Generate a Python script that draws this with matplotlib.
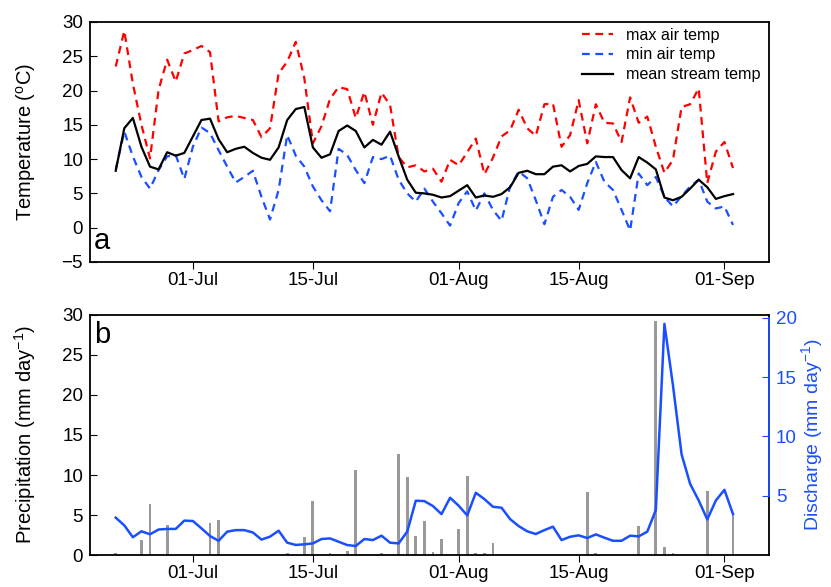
import numpy as np
import matplotlib
matplotlib.use('Agg')
import matplotlib.pyplot as plt
import matplotlib.dates as mdates

plt.rcParams['font.family'] = ['Liberation Sans', 'DejaVu Sans']
plt.rcParams['mathtext.fontset'] = 'custom'
plt.rcParams['mathtext.rm'] = 'Liberation Sans'
plt.rcParams['mathtext.it'] = 'Liberation Sans:italic'

# daily series, 22 Jun - 02 Sep
start_day = '2013-06-22'
end_day = '2013-09-03'

max_air = [23.5, 28.7, 21.0, 15.0, 10.1, 20.1, 24.5, 21.3, 25.4, 25.9,
           26.5, 25.6, 15.5, 16.1, 16.3, 16.0, 15.7, 13.2, 14.5, 22.5,
           24.2, 27.1, 21.8, 12.3, 14.8, 18.8, 20.5, 20.2, 16.0, 19.8,
           15.0, 19.7, 17.9, 10.3, 8.8, 9.1, 8.2, 8.6, 6.7, 9.9,
           9.1, 11.0, 13.0, 7.8, 10.2, 13.3, 14.2, 17.2, 14.5, 13.4,
           18.0, 18.1, 11.8, 13.5, 18.6, 12.3, 18.0, 15.3, 15.2, 12.5,
           19.0, 15.3, 16.2, 11.8, 8.0, 9.9, 17.6, 18.0, 20.3, 6.5,
           11.1, 12.5, 8.7]

min_air = [8.5, 14.0, 10.4, 7.4, 5.7, 8.4, 10.4, 10.6, 7.1, 11.8,
           14.6, 13.8, 11.3, 8.9, 6.6, 7.4, 8.3, 4.5, 1.2, 5.5,
           13.5, 10.5, 8.9, 6.0, 4.0, 2.4, 11.5, 10.6, 8.4, 6.5,
           10.3, 10.0, 10.5, 7.0, 5.0, 3.8, 5.7, 3.8, 2.1, 0.3,
           3.6, 5.3, 2.5, 5.0, 2.6, 1.0, 6.0, 8.2, 7.2, 4.0,
           0.5, 4.5, 5.5, 4.5, 2.6, 6.5, 9.6, 6.7, 5.5, 2.6,
           -0.4, 7.9, 6.2, 7.4, 4.5, 3.1, 4.6, 6.0, 7.0, 3.8,
           2.8, 3.1, 0.4]

mean_stream = [8.3, 14.5, 16.0, 11.8, 8.9, 8.5, 11.0, 10.5, 10.9, 13.3,
               15.7, 15.9, 12.9, 11.0, 11.5, 11.8, 10.9, 10.2, 9.9, 11.7,
               15.7, 17.3, 17.6, 11.7, 10.2, 10.7, 14.1, 14.9, 14.1, 11.7,
               12.8, 12.1, 14.0, 10.4, 7.0, 5.1, 5.0, 4.8, 4.4, 4.6,
               5.4, 6.2, 4.4, 4.7, 4.5, 4.9, 5.9, 8.0, 8.3, 7.8,
               7.8, 8.9, 9.1, 8.2, 9.0, 9.3, 10.4, 10.3, 10.3, 8.4,
               7.2, 10.3, 9.5, 8.5, 4.4, 4.0, 4.5, 5.7, 7.0, 5.9,
               4.2, 4.6, 4.9]

precip = [0.3, 0, 0, 1.9, 6.4, 0, 3.8, 0, 0, 0,
          0, 4.0, 4.4, 0, 0, 0, 0, 0, 0, 0,
          0.3, 0, 2.2, 6.8, 0, 0.2, 0, 0.5, 10.6, 0,
          0, 0.2, 0, 12.6, 9.8, 2.4, 4.2, 0.4, 2.0, 0,
          3.2, 9.9, 0.2, 0.3, 1.5, 0, 0, 0, 0, 0,
          0, 0, 0, 0, 0, 7.9, 0.2, 0, 0, 0,
          0, 3.6, 0, 29.3, 1.0, 0.2, 0, 0, 0, 8.0,
          0, 0, 5.0]

discharge = [3.15, 2.5, 1.5, 2.0, 1.75, 2.15, 2.2, 2.2, 2.9, 2.87,
             2.25, 1.6, 1.2, 1.97, 2.1, 2.1, 1.9, 1.3, 1.55, 2.05,
             1.04, 0.85, 0.9, 0.98, 1.35, 1.4, 1.12, 0.84, 0.76, 1.35,
             1.26, 1.63, 1.04, 0.98, 1.97, 4.58, 4.55, 4.13, 3.45, 4.83,
             4.16, 3.34, 5.25, 4.72, 4.07, 3.99, 3.03, 2.44, 2.0, 1.77,
             2.1, 2.39, 1.26, 1.54, 1.66, 1.43, 1.74, 1.46, 1.2, 1.2,
             1.63, 1.57, 1.97, 3.8, 19.5, 14.3, 8.5, 6.0, 4.6, 3.0,
             4.6, 5.5, 3.45]

dates = np.arange(start_day, end_day, dtype='datetime64[D]')
blue = '#1a4fff'

fig = plt.figure(figsize=(8.31, 5.87), dpi=100)
axA = fig.add_axes([0.1083, 0.5537, 0.8171, 0.4089])
axB = fig.add_axes([0.1083, 0.0545, 0.8171, 0.4089])

xmin = mdates.date2num(np.datetime64('2013-06-19'))
xmax = mdates.date2num(np.datetime64('2013-09-06')) + 0.2

# panel a: temperatures
axA.plot(dates, max_air, color='red', lw=1.6, dashes=(3.5, 2.5), label='max air temp')
axA.plot(dates, min_air, color=blue, lw=1.6, dashes=(3.5, 2.5), label='min air temp')
axA.plot(dates, mean_stream, color='black', lw=1.6, label='mean stream temp')
axA.set_ylim(-5, 30)
axA.set_yticks(np.arange(-5, 31, 5))
axA.set_ylabel('Temperature ($^{\\mathrm{o}}$C)', fontsize=14.5)
axA.yaxis.set_label_coords(-0.077, 0.5)
axA.text(0.006, 0.03, 'a', transform=axA.transAxes, fontsize=21, ha='left', va='bottom')
axA.legend(loc='upper left', bbox_to_anchor=(0.72, 0.99), frameon=False, fontsize=11.6,
           handlelength=1.9, handletextpad=0.8, labelspacing=0.3, borderpad=0.2,
           borderaxespad=0)

# panel b: precipitation + discharge
axB.bar(dates, precip, width=0.33, color='#999999', align='center')
axB.set_ylim(0, 30)
axB.set_yticks(np.arange(0, 31, 5))
axB.set_ylabel('Precipitation (mm day$^{-1}$)', fontsize=14.5)
axB.yaxis.set_label_coords(-0.077, 0.5)
axB.text(0.006, 0.975, 'b', transform=axB.transAxes, fontsize=21, ha='left', va='top')

axQ = axB.twinx()
axQ.plot(dates, discharge, color=blue, lw=1.8)
axQ.set_ylim(0, 20.25)
axQ.set_yticks([5, 10, 15, 20])
for s in ['left', 'top', 'bottom']:
    axQ.spines[s].set_visible(False)
axQ.spines['right'].set_bounds(5, 20)
axQ.spines['right'].set_color(blue)
axQ.spines['right'].set_linewidth(1.3)
axQ.tick_params(axis='y', direction='in', length=5, colors=blue, labelsize=13.5, pad=5)
axQ.set_ylabel('Discharge (mm day$^{-1}$)', fontsize=14, color=blue)
axQ.yaxis.set_label_coords(1.044, 0.5)

for ax in (axA, axB, axQ):
    ax.set_xlim(xmin, xmax)
    ax.xaxis.set_major_locator(mdates.DayLocator(bymonthday=[1, 15]))
    ax.xaxis.set_major_formatter(mdates.DateFormatter('%d-%b'))

for ax in (axA, axB):
    for s in ax.spines.values():
        s.set_linewidth(1.3)
    ax.tick_params(axis='y', direction='in', length=5, labelsize=13.5, pad=5)
    ax.tick_params(axis='x', direction='out', length=5, labelsize=13.5, pad=2)

fig.savefig('out.png', dpi=100)
